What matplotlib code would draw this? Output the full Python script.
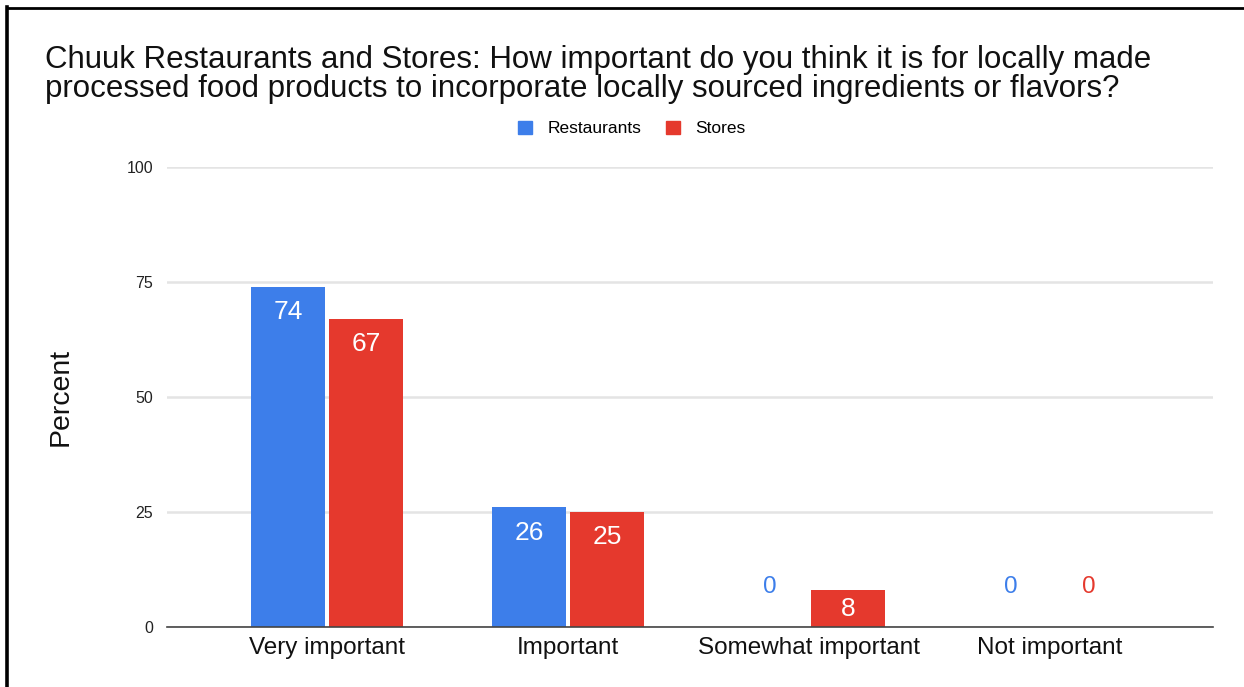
"""Grouped bar chart: importance of local ingredients for Chuuk restaurants and stores."""

import matplotlib
matplotlib.use("Agg")
import matplotlib.pyplot as plt
from matplotlib.lines import Line2D
import numpy as np

categories = ["Very important", "Important", "Somewhat important", "Not important"]
restaurants = [74, 26, 0, 0]
stores = [67, 25, 8, 0]
series_names = ["Restaurants", "Stores"]
y_ticks = [0, 25, 50, 75, 100]

BLUE = "#3d7eea"
RED = "#e5392d"

plt.rcParams["font.family"] = ["Liberation Sans", "DejaVu Sans"]

fig = plt.figure(figsize=(12.44, 6.87), dpi=100)
fig.patch.set_facecolor("white")
ax = fig.add_axes([0.1342, 0.0873, 0.8408, 0.6696])

x = np.arange(len(categories))
width = 0.305
offset = 0.162

for vals, color, shift in ((restaurants, BLUE, -offset), (stores, RED, offset)):
    bars = ax.bar(x + shift, vals, width=width, color=color, zorder=3)
    for rect, v in zip(bars, vals):
        cx = rect.get_x() + rect.get_width() / 2
        if v > 10:
            ax.annotate(f"{v}", (cx, v), xytext=(0, -9.5), textcoords="offset points",
                        ha="center", va="top", color="white", fontsize=19, zorder=4)
        elif v > 0:
            ax.annotate(f"{v}", (cx, v), xytext=(0, -5), textcoords="offset points",
                        ha="center", va="top", color="white", fontsize=19, zorder=4)
        else:
            ax.annotate(f"{v}", (cx, v), xytext=(0, 21), textcoords="offset points",
                        ha="center", va="bottom", color=color, fontsize=17.5, zorder=4)

ax.set_xlim(-0.664, 3.676)
ax.set_ylim(0, 100)
ax.set_yticks(y_ticks)
ax.set_yticklabels([str(t) for t in y_ticks], fontsize=11.5, color="#222222")
ax.set_xticks(x)
ax.set_xticklabels(categories, fontsize=17.5, color="#111111")
ax.tick_params(axis="y", length=0, pad=10)
ax.tick_params(axis="x", length=0, pad=7)
ax.grid(axis="y", color="#e4e4e4", linewidth=1.8, zorder=0)
for side in ("top", "right", "left"):
    ax.spines[side].set_visible(False)
ax.spines["bottom"].set_color("#444444")
ax.spines["bottom"].set_linewidth(1.2)
ax.spines["bottom"].set_zorder(5)
ax.set_ylabel("Percent", fontsize=20.5, labelpad=38, color="#111111")

fig.text(0.036, 0.935,
         "Chuuk Restaurants and Stores: How important do you think it is for locally made\n"
         "processed food products to incorporate locally sourced ingredients or flavors?",
         fontsize=22.5, ha="left", va="top", linespacing=0.96, color="#111111")

handles = [plt.Rectangle((0, 0), 1, 1, color=c) for c in (BLUE, RED)]
fig.legend(handles, series_names, loc="center", bbox_to_anchor=(0.508, 0.813), ncol=2,
           frameon=False, fontsize=12.5, handlelength=0.8, handleheight=0.8,
           columnspacing=1.4, handletextpad=0.9)

# frame lines along the left and top edges
fig.add_artist(Line2D([0.0058, 0.0058], [0, 0.99], color="black", linewidth=2.6,
                      transform=fig.transFigure))
fig.add_artist(Line2D([0.0058, 1.0], [0.989, 0.989], color="black", linewidth=2,
                      transform=fig.transFigure))

fig.savefig("out.png", dpi=100, facecolor="white")
